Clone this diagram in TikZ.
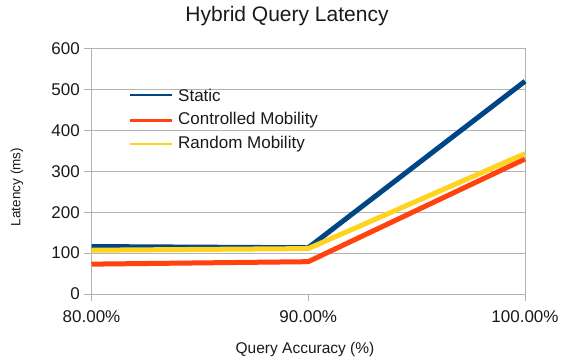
\documentclass[tikz,border=0pt]{standalone}
\usepackage{fontspec}
\setmainfont{Liberation Sans}
\definecolor{gridgray}{HTML}{B3B3B3}
\definecolor{txt}{HTML}{1A1A1A}
\definecolor{sblue}{HTML}{004586}
\definecolor{sorange}{HTML}{FF420E}
\definecolor{syellow}{HTML}{FFD320}
\begin{document}
\begin{tikzpicture}[x=1pt,y=-1pt,
  gridline/.style={draw=gridgray,line width=1pt},
  tickmark/.style={draw=gridgray,line width=1pt},
  ticklabel/.style={text=txt,font=\fontsize{17}{20}\selectfont,inner sep=0pt},
  axistitle/.style={text=txt,font=\fontsize{14.5}{17}\selectfont,inner sep=0pt},
  series/.style={line width=5pt,line join=round},
  legendline/.style={line width=2.5pt},
  legendtext/.style={text=txt,font=\fontsize{17}{20}\selectfont,anchor=west,inner sep=0pt}]
% canvas
\path[use as bounding box,fill=white] (0,0) rectangle (561,361);
% horizontal grid lines every 100 ms (0 ms at y=294, 40.92 px per 100 ms)
\foreach \v in {1,...,6}
  \draw[gridline] (91.5,{294-40.92*\v}) -- (525,{294-40.92*\v});
\draw[gridline] (525,{294-40.92*6}) -- (525,294);
% axes
\draw[gridline] (91.5,{294-40.92*6}) -- (91.5,294) -- (525,294);
% y ticks and labels
\foreach \v in {0,...,6} {
  \draw[tickmark] (84,{294-40.92*\v}) -- (91.5,{294-40.92*\v});
  \node[ticklabel,anchor=east] (yl\v) at (80,{294-40.92*\v}) {\pgfmathparse{int(100*\v)}\pgfmathresult};
}
% x ticks and labels
\foreach \i/\lab in {0/80.00\%,1/90.00\%,2/100.00\%} {
  \draw[tickmark] ({91.5+216.75*\i},294) -- ({91.5+216.75*\i},301);
  \node[ticklabel] (xl\i) at ({91.5+216.75*\i},317) {\lab};
}
% titles
\node[text=txt,font=\fontsize{21}{25}\selectfont,inner sep=0pt] (title) at (287,16) {Hybrid Query Latency};
\node[axistitle,font=\fontsize{15.5}{18}\selectfont] (xtitle) at (305,349) {Query Accuracy (\%)};
\node[axistitle,font=\fontsize{13.5}{16}\selectfont,rotate=90] (ytitle) at (17,187) {Latency (ms)};
% data points
\foreach \n/\a/\b/\c in {st/116/113/520, co/73/79/330, ra/107/111/343} {
  \coordinate (\n0) at (91.5,{294-0.4092*\a});
  \coordinate (\n1) at (308.25,{294-0.4092*\b});
  \coordinate (\n2) at (525,{294-0.4092*\c});
}
% series
\draw[series,sblue] (st0) -- (st1) -- (st2);
\draw[series,sorange] (co0) -- (co1) -- (co2);
\draw[series,syellow] (ra0) -- (ra1) -- (ra2);
% legend
\coordinate (lg1a) at (130,95);    \coordinate (lg1b) at (172,95);
\coordinate (lg2a) at (130,120.5); \coordinate (lg2b) at (172,120.5);
\coordinate (lg3a) at (130,144);   \coordinate (lg3b) at (172,144);
\draw[legendline,sblue] (lg1a) -- (lg1b);
\draw[legendline,sorange] (lg2a) -- (lg2b);
\draw[legendline,syellow] (lg3a) -- (lg3b);
\node[legendtext] (lt1) at (178,95) {Static};
\node[legendtext] (lt2) at (178,120.5) {Controlled Mobility};
\node[legendtext] (lt3) at (178,144) {Random Mobility};
\end{tikzpicture}
\end{document}
